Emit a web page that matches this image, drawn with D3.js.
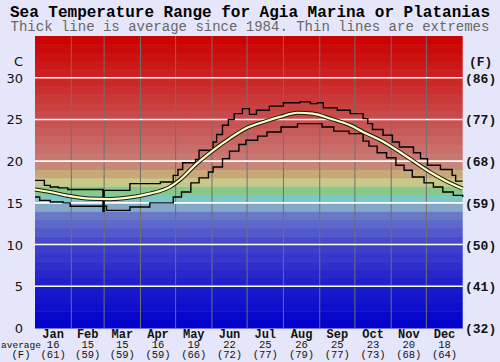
<!DOCTYPE html>
<html><head><meta charset="utf-8">
<script src="https://cdn.jsdelivr.net/npm/d3@7"></script>
<style>body{margin:0;background:#e6e6fa;} svg{display:block;}</style>
</head><body>
<svg id="chart" width="500" height="362"></svg>
<script>
const months = ["Jan","Feb","Mar","Apr","May","Jun","Jul","Aug","Sep","Oct","Nov","Dec"];
const monthStart = [0,31,59,90,120,151,181,212,243,273,304,334,365];
const monthAvgC = [16,15,15,16,19,22,25,26,25,23,20,18];
const monthAvgF = [61,59,59,59,66,72,77,79,77,73,68,64];
const ticksC = [0,5,10,15,20,25,30];
const ticksF = [32,41,50,59,68,77,86];

const avgDay  = [0,13,30,47,64,81,98,115,124,138,152,166,181,195,209,224,237,252,269,280,295,309,323,337,351,365];
const avgTemp = [16.6,16.3,15.8,15.5,15.45,15.65,16.1,16.9,17.8,19.7,21.3,22.7,24.0,24.7,25.3,25.8,25.7,25.1,24.3,23.5,22.5,21.3,20.0,18.7,17.6,16.7];

const maxDay  = [0,8,13,20,28,58,59,81,107,118,122,126,137,140,152,155,160,165,170,177,183,189,200,212,226,235,241,246,258,269,280,284,288,297,305,311,323,329,335,346,356,359,365];
const maxTemp = [17.7,17.1,16.9,16.8,16.6,14.0,16.5,17.3,17.5,18.3,19.0,19.8,20.2,21.3,22.3,23.2,24.3,25.0,25.7,26.3,25.6,26.1,26.6,27.0,27.1,26.9,27.0,26.4,26.1,25.7,25.1,24.5,23.8,23.1,22.3,21.7,21.0,20.3,19.5,19.0,18.3,17.6,17.6];

const minDay  = [0,4,13,24,30,61,81,98,118,125,133,140,148,152,160,166,174,180,190,198,210,224,245,255,268,280,285,292,300,308,315,322,332,340,348,357,365];
const minTemp = [15.7,15.3,15.1,15.0,14.6,14.1,14.5,15.0,15.7,16.3,17.4,18.0,18.7,19.3,20.3,21.2,22.0,22.5,23.0,23.5,24.1,24.5,24.1,23.6,23.3,22.4,21.8,21.0,20.4,19.5,18.9,18.1,17.4,16.9,16.3,15.9,15.7];

const svg = d3.select("#chart");
const W = 500, H = 362;
const x = d3.scaleLinear().domain([0,365]).range([35,462.7]);
const y = d3.scaleLinear().domain([0,35]).range([328,36]);

svg.append("rect").attr("width",W).attr("height",H).attr("fill","#e6e6fa");

// colour bands (1 degree each)
const bandColor = d3.scaleLinear()
  .domain([0,5,10,13.5,14.5,15.5,16.5,17.5,18.5,19.5,20.5,25,30,35])
  .range(["#0000cc","#1c1ccc","#4242cc","#6a78c8","#84a8c8","#7cc8c8","#88c888","#c8c888","#c8a878","#c88878","#c87872","#c84e4e","#cc2222","#cc0000"])
  .interpolate(d3.interpolateRgb);
const bands = d3.range(0,35);
svg.append("g").selectAll("rect").data(bands).join("rect")
  .attr("x", x(0)).attr("width", x(365)-x(0))
  .attr("y", d => y(d+1)).attr("height", d => y(d)-y(d+1)+0.5)
  .attr("fill", d => bandColor(d+0.5));

// month lines
svg.append("g").selectAll("line").data(monthStart.slice(1,12)).join("line")
  .attr("x1", d => x(d)).attr("x2", d => x(d))
  .attr("y1", y(35)).attr("y2", y(0))
  .attr("stroke","#707070").attr("stroke-width",1);

// horizontal white gridlines
svg.append("g").selectAll("line").data(ticksC.slice(1)).join("line")
  .attr("x1", x(0)).attr("x2", x(365))
  .attr("y1", d => y(d)).attr("y2", d => y(d))
  .attr("stroke","#ffffff").attr("stroke-width",1.6);

// lines
const step = d3.line().x(d => x(d[0])).y(d => y(d[1])).curve(d3.curveStepAfter);
const smooth = d3.line().x(d => x(d[0])).y(d => y(d[1])).curve(d3.curveMonotoneX);
const maxPts = maxDay.map((d,i)=>[d,maxTemp[i]]);
const minPts = minDay.map((d,i)=>[d,minTemp[i]]);
const avgPts = avgDay.map((d,i)=>[d,avgTemp[i]]);
svg.append("path").attr("d", step(maxPts)).attr("fill","none").attr("stroke","#000").attr("stroke-width",1.4);
svg.append("path").attr("d", step(minPts)).attr("fill","none").attr("stroke","#000").attr("stroke-width",1.4);
svg.append("path").attr("d", smooth(avgPts)).attr("fill","none").attr("stroke","#1a1a1a").attr("stroke-width",4.2);
svg.append("path").attr("d", smooth(avgPts)).attr("fill","none").attr("stroke","#ffffc0").attr("stroke-width",2.2);

// titles
svg.append("text").attr("x",W/2).attr("y",17).attr("text-anchor","middle")
  .attr("font-family","Liberation Mono").attr("font-weight","bold").attr("font-size",16).attr("fill","#000")
  .text("Sea Temperature Range for Agia Marina or Platanias");
svg.append("text").attr("x",W/2).attr("y",31).attr("text-anchor","middle")
  .attr("font-family","Liberation Mono").attr("font-size",14).attr("fill","#666")
  .text("Thick line is average since 1984. Thin lines are extremes");

// left axis
const left = svg.append("g").attr("font-family","DejaVu Sans").attr("font-size",13).attr("fill","#111");
left.selectAll("text").data(ticksC).join("text")
  .attr("x",23).attr("y", d => y(d)+5).attr("text-anchor","end").text(d => d);
left.append("text").attr("x",23).attr("y",66).attr("text-anchor","end").text("C");

// right axis
const right = svg.append("g").attr("font-family","Liberation Mono").attr("font-weight","bold").attr("font-size",13).attr("fill","#111");
right.selectAll("text").data(ticksF).join("text")
  .attr("x",465).attr("y",(d,i) => y(ticksC[i])+5).text(d => "(" + d + ")");
right.append("text").attr("x",469).attr("y",66).text("(F)");

// bottom month labels (one wrapped text per month)
const bottom = svg.append("g").attr("font-family","Liberation Mono").attr("fill","#111").attr("text-anchor","middle");
months.forEach((m,i) => {
  const cx = x((monthStart[i]+monthStart[i+1])/2);
  const t = bottom.append("text").attr("x",cx).attr("y",337.5);
  t.append("tspan").attr("x",cx).attr("font-weight","bold").attr("font-size",12).text(m);
  t.append("tspan").attr("x",cx).attr("dy",10).attr("font-size",10.5).text(monthAvgC[i]);
  t.append("tspan").attr("x",cx).attr("dy",10).attr("font-size",10.5).text("(" + monthAvgF[i] + ")");
});
const av = bottom.append("text").attr("x",21).attr("y",347.5);
av.append("tspan").attr("x",21).attr("font-size",9.5).text("average");
av.append("tspan").attr("x",21).attr("dy",10).attr("font-size",10.5).text("(F)");
</script>
</body></html>
